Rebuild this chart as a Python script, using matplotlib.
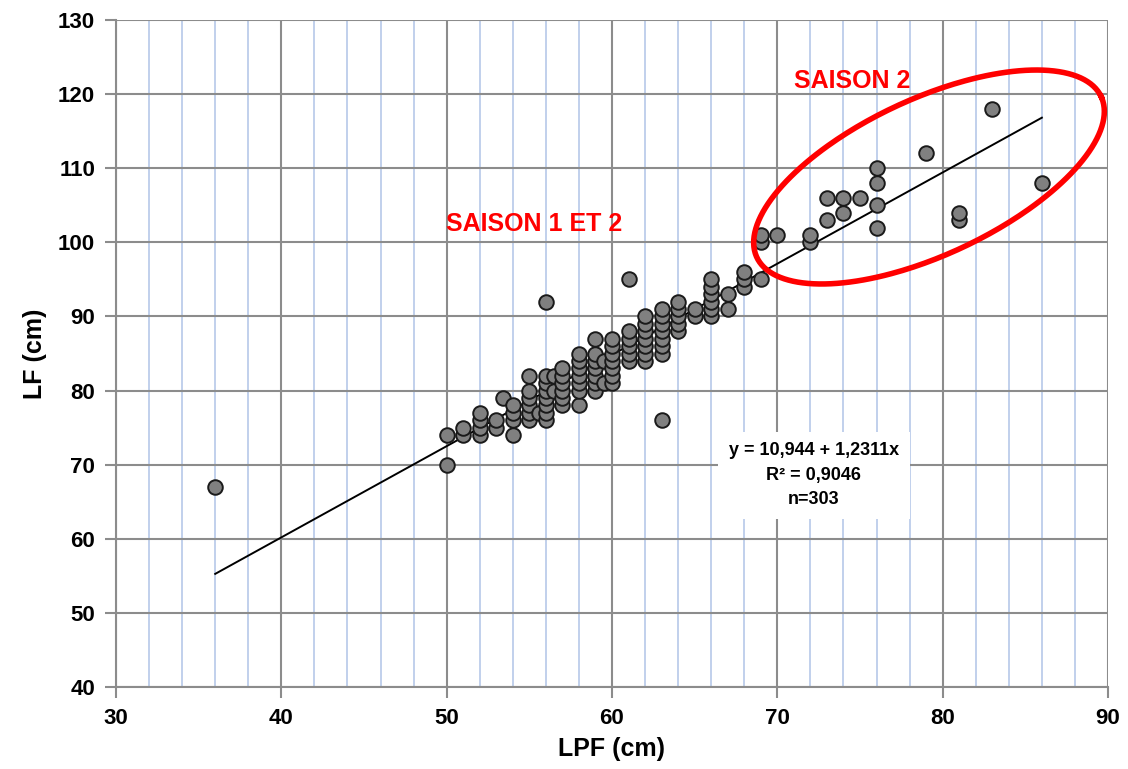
import numpy as np
import matplotlib
matplotlib.use("Agg")
import matplotlib.pyplot as plt
from matplotlib.ticker import MultipleLocator

plt.rcParams['font.family'] = ['Liberation Sans', 'DejaVu Sans']
plt.rcParams['font.weight'] = 'bold'

# données : LPF (cm) -> liste des LF (cm)
lpf_cols = [36, 50, 51, 52, 53, 53.4, 54, 55, 55.6, 56, 56.5, 57, 58, 59, 59.5, 60,
            61, 62, 63, 64, 65, 66, 67, 68, 69, 70, 72, 73, 74, 75, 76, 79, 81, 83, 86]
lf_cols = [
    [67],
    [70, 74],
    [74, 75],
    [74, 75, 76, 77],
    [75, 76],
    [79],
    [74, 76, 77, 78],
    [76, 77, 78, 79, 80, 82],
    [77],
    [76, 77, 78, 79, 80, 81, 82, 92],
    [80, 82],
    [78, 79, 80, 81, 82, 83],
    [78, 80, 81, 82, 83, 84, 85],
    [80, 81, 82, 83, 84, 85, 87],
    [81, 84],
    [81, 82, 83, 84, 85, 86, 87],
    [84, 85, 86, 87, 88, 95],
    [84, 85, 86, 87, 88, 89, 90],
    [76, 85, 86, 87, 88, 89, 90, 91],
    [88, 89, 90, 91, 92],
    [90, 91],
    [90, 91, 92, 93, 94, 95],
    [91, 93],
    [94, 95, 96],
    [95, 100, 101],
    [101],
    [100, 101],
    [103, 106],
    [104, 106],
    [106],
    [102, 105, 108, 110],
    [112],
    [103, 104],
    [118],
    [108],
]

# droite de régression
intercept = 10.944
slope = 1.2311
x_min, x_max = 36, 86

x_pts = []
y_pts = []
for xv, ys in zip(lpf_cols, lf_cols):
    for yv in ys:
        x_pts.append(xv)
        y_pts.append(yv)

fig = plt.figure(figsize=(11.28, 7.69), dpi=100)
ax = fig.add_axes([116/1128, 1 - 687/769, (1108-116)/1128, (687-20)/769])

ax.set_xlim(30, 90)
ax.set_ylim(40, 130)
ax.xaxis.set_major_locator(MultipleLocator(10))
ax.xaxis.set_minor_locator(MultipleLocator(2))
ax.yaxis.set_major_locator(MultipleLocator(10))

ax.grid(which='minor', axis='x', color='#bccdea', lw=1.3, zorder=0)
ax.grid(which='major', color='#8c8c8c', lw=1.5, zorder=0.5)
ax.set_axisbelow(True)

for s in ['top', 'right']:
    ax.spines[s].set_visible(False)
for s in ['left', 'bottom']:
    ax.spines[s].set_color('#8c8c8c')
    ax.spines[s].set_linewidth(1.5)

ax.tick_params(which='major', length=8, width=1.5, color='#8c8c8c',
               labelsize=16, pad=7)
ax.tick_params(which='minor', length=0)

xl = np.array([x_min, x_max])
ax.plot(xl, intercept + slope * xl, color='black', lw=1.4, zorder=2)

ax.scatter(x_pts, y_pts, s=110, facecolor='#808080', edgecolor='#1a1a1a',
           linewidth=1.4, zorder=3)

# ellipse rouge (tracée en pixels puis convertie)
sx = (1108 - 116) / 60
sy = (687 - 20) / 90
cx, cy, a, b, th = 929, 177, 190, 78, np.radians(25)
t = np.linspace(0, 2 * np.pi, 300)
px = cx + a * np.cos(t) * np.cos(th) - b * np.sin(t) * np.sin(th)
py = cy - (a * np.cos(t) * np.sin(th) + b * np.sin(t) * np.cos(th))
ax.plot(30 + (px - 116) / sx, 130 - (py - 20) / sy, color='#ff0000', lw=4,
        zorder=4, clip_on=False)

ax.text(74.5, 120.8, 'SAISON 2', color='#ff0000', fontsize=18,
        fontweight='bold', ha='center', va='baseline')
ax.text(55.3, 101.5, 'SAISON 1 ET 2', color='#ff0000', fontsize=18,
        fontweight='bold', ha='center', va='baseline')

ax.text(72.2, 68.6, 'y = 10,944 + 1,2311x\nR² = 0,9046\nn=303',
        fontsize=13, fontweight='bold', ha='center', va='center',
        linespacing=1.55, zorder=5,
        bbox=dict(boxstyle='square,pad=0.6', facecolor='white', edgecolor='none'))

ax.set_xlabel('LPF (cm)', fontsize=18, fontweight='bold', labelpad=6)
ax.set_ylabel('LF (cm)', fontsize=18, fontweight='bold', labelpad=8)

fig.savefig('out.png', dpi=100)
